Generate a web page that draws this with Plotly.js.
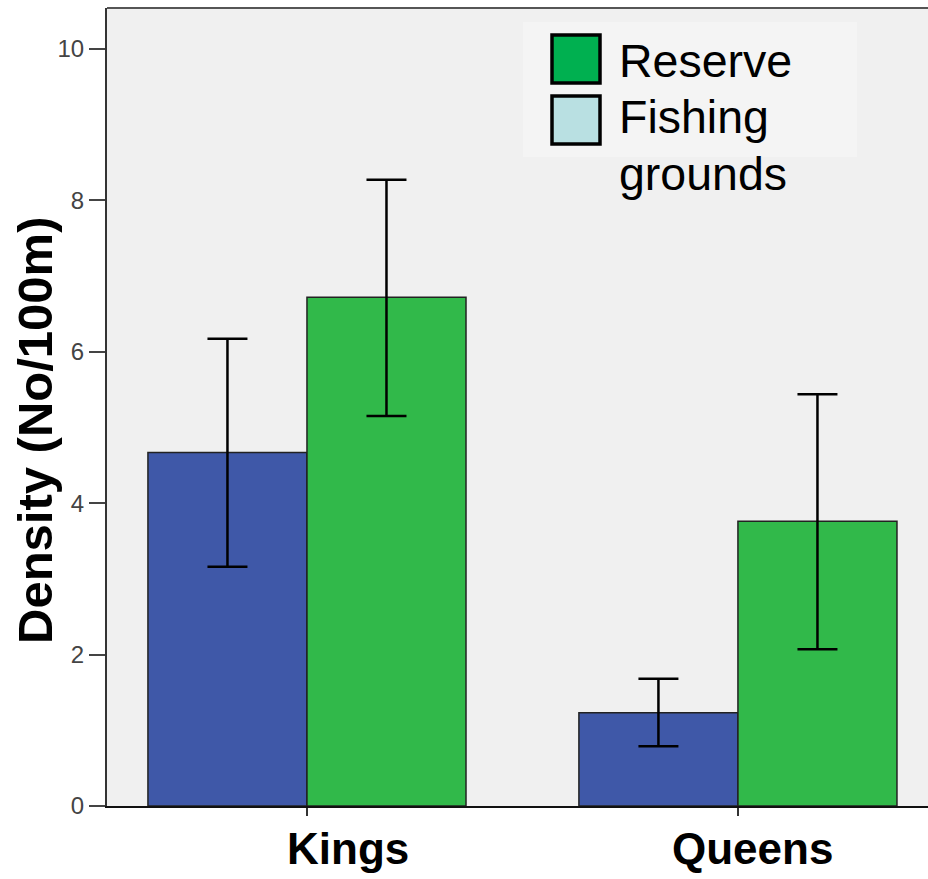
<!DOCTYPE html>
<html>
<head>
<meta charset="utf-8">
<script src="https://cdn.plot.ly/plotly-3.0.1.min.js"></script>
<style>html,body{margin:0;padding:0;background:#fff;}#chart{width:928px;height:879px;}</style>
</head>
<body>
<div id="chart"></div>
<script>
// ---- data ----
const categories = ["Kings", "Queens"];
const fishingValues = [4.67, 1.23];
const fishingUpper = [6.17, 1.68];
const fishingLower = [3.16, 0.79];
const reserveValues = [6.72, 3.76];
const reserveUpper = [8.27, 5.44];
const reserveLower = [5.15, 2.07];
const yTicks = [0, 2, 4, 6, 8, 10];
const legendLabels = ["Reserve", "Fishing", "grounds"];
const yTitle = "Density (No/100m)";

// ---- layout helpers ----
const W = 928, H = 879;
const M = {l: 107, r: 0, t: 8, b: 73};
const plotW = W - M.l - M.r, plotH = H - M.t - M.b;
const px = x => (x - M.l) / plotW;
const py = y => (H - M.b - y) / plotH;
const FONT = 'Liberation Sans, Arial, sans-serif';

function errs(vals, up, lo) {
  return {
    type: 'data', symmetric: false,
    array: vals.map((v, i) => up[i] - v),
    arrayminus: vals.map((v, i) => v - lo[i]),
    color: '#000', thickness: 2.5, width: 20
  };
}

const traces = [
  {type: 'bar', x: categories, y: fishingValues, name: 'Fishing grounds',
   marker: {color: '#3f58a8', line: {color: '#222', width: 1.5}},
   error_y: errs(fishingValues, fishingUpper, fishingLower), showlegend: false},
  {type: 'bar', x: categories, y: reserveValues, name: 'Reserve',
   marker: {color: '#31b94a', line: {color: '#222', width: 1.5}},
   error_y: errs(reserveValues, reserveUpper, reserveLower), showlegend: false}
];

const shapes = [
  {type: 'rect', xref: 'paper', yref: 'paper', x0: px(523), x1: px(857), y0: py(157), y1: py(22),
   fillcolor: '#f4f4f4', line: {width: 0}, layer: 'below'},
  {type: 'rect', xref: 'paper', yref: 'paper', x0: px(552), x1: px(600), y0: py(83), y1: py(35),
   fillcolor: '#00b050', line: {color: '#000', width: 3.5}},
  {type: 'rect', xref: 'paper', yref: 'paper', x0: px(552), x1: px(600), y0: py(144), y1: py(96),
   fillcolor: '#b9e0e2', line: {color: '#000', width: 3.5}},
  {type: 'line', xref: 'paper', yref: 'paper', x0: 0, x1: 1, y0: 1, y1: 1, line: {color: '#555', width: 2}}
];

const legY = [61, 117, 174];
const annotations = legendLabels.map((t, i) => ({
  text: t, xref: 'paper', yref: 'paper', x: px(617), y: py(legY[i]),
  xanchor: 'left', yanchor: 'middle', showarrow: false,
  font: {family: FONT, size: 46.5, color: '#000'}
}));

// category labels (placed below the axis, slightly right of centre as in the reference)
const labelShift = [41, 15];
categories.forEach((c, i) => annotations.push({
  text: c, xref: 'x', yref: 'paper', x: c, y: py(849), xshift: labelShift[i],
  xanchor: 'center', yanchor: 'middle', showarrow: false,
  font: {family: FONT, size: 44, color: '#000', weight: 'bold'}
}));

// y-axis title
annotations.push({
  text: yTitle, xref: 'paper', yref: 'paper', x: px(35), y: py(430),
  xanchor: 'center', yanchor: 'middle', textangle: -90, showarrow: false,
  font: {family: FONT, size: 49, color: '#000', weight: 'bold'}
});

const layout = {
  width: W, height: H,
  margin: M,
  paper_bgcolor: '#ffffff',
  plot_bgcolor: '#f0f0f0',
  barmode: 'group',
  bargap: 0.262,
  bargroupgap: 0,
  showlegend: false,
  xaxis: {
    type: 'category', range: [-0.464, 1.441],
    showline: true, linecolor: '#111', linewidth: 2,
    ticks: 'outside', ticklen: 8, tickcolor: '#333', tickwidth: 1.5,
    showticklabels: false,
    showgrid: false, zeroline: false
  },
  yaxis: {
    range: [0, 10.54], tickvals: yTicks, ticktext: yTicks.map(String),
    showline: true, linecolor: '#333', linewidth: 2, mirror: false,
    ticks: 'outside', ticklen: 16, tickcolor: '#444', tickwidth: 2,
    tickfont: {family: FONT, size: 24, color: '#444'},
    showgrid: false, zeroline: false
  },
  shapes: shapes,
  annotations: annotations
};

Plotly.newPlot('chart', traces, layout, {staticPlot: true, displayModeBar: false});
</script>
</body>
</html>
